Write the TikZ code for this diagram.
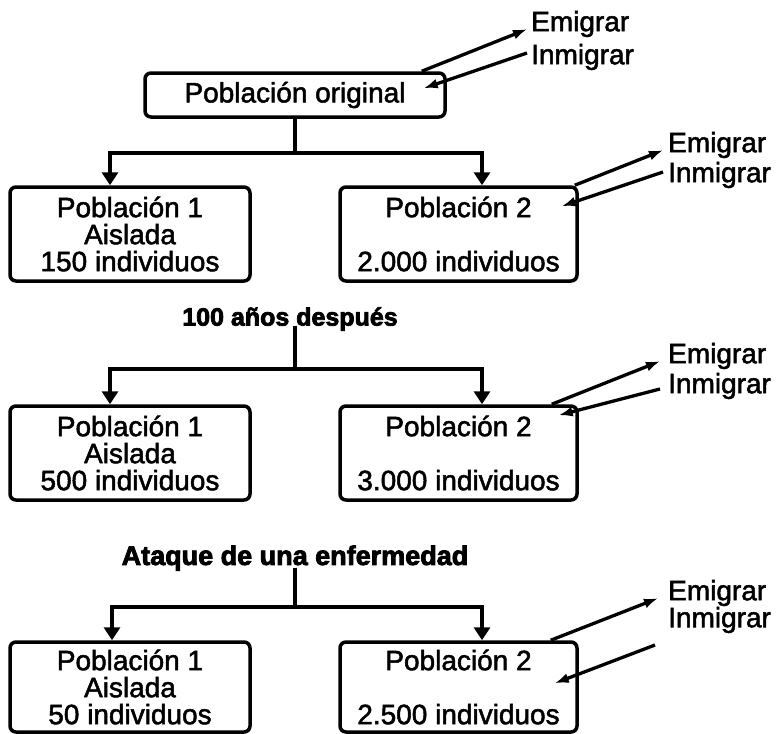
\documentclass[tikz,border=0pt]{standalone}
\usepackage{fontspec}
\setmainfont{Liberation Sans}
\newfontfamily\pobfont{Liberation Sans}[FakeBold=1.8]
\newfontfamily\titfont{Liberation Sans}[BoldFeatures={FakeBold=3}]
\usetikzlibrary{arrows.meta,positioning}

\begin{document}
\begin{tikzpicture}[
  x=1pt, y=-1pt,
  font=\pobfont\fontsize{28}{27}\selectfont,
  pob/.style={rectangle, rounded corners=6pt, draw=black, line width=3.5pt,
              minimum height=94pt, align=center, inner sep=2pt},
  pobl/.style={pob, minimum width=240pt},
  pobr/.style={pob, minimum width=237pt},
  orig/.style={pob, minimum width=300pt, minimum height=44pt},
  titulo/.style={font=\titfont\bfseries\fontsize{25}{25}\selectfont, inner sep=1pt},
  mig/.style={anchor=west, inner sep=0pt},
  link/.style={line width=3.5pt},
  down/.style={link, -{Triangle[width=16pt,length=13pt]}},
  flow/.style={line width=3.3pt, -{Latex[length=14pt,width=10pt]}},
]
\useasboundingbox (0,0) rectangle (777,734);

\node[orig] (orig) at (295,95) {Población original};

\node[pobl] (a1) at (130,234) {Población 1\\Aislada\\150 individuos};
\node[pobr] (b1) at (458.5,234) {Población 2\\[27pt]2.000 individuos};

\node[titulo] (t2) at (290,319) {100 años después};
\node[pobl] (a2) at (130,453) {Población 1\\Aislada\\500 individuos};
\node[pobr] (b2) at (458.5,453) {Población 2\\[27pt]3.000 individuos};

\node[titulo, font=\titfont\bfseries\fontsize{27}{27}\selectfont] (t3) at (295,558) {Ataque de una enfermedad};
\node[pobl, minimum height=90pt] (a3) at (130,687) {Población 1\\Aislada\\50 individuos};
\node[pobr, minimum height=90pt] (b3) at (458.5,687) {Población 2\\[27pt]2.500 individuos};

\node[mig] (e0) at (531,24) {Emigrar};
\node[mig] (i0) at (531,57) {Inmigrar};
\node[mig] (e1) at (668,145) {Emigrar};
\node[mig] (i1) at (668,175) {Inmigrar};
\node[mig] (e2) at (668,356) {Emigrar};
\node[mig] (i2) at (668,386) {Inmigrar};
\node[mig] (e3) at (668,593) {Emigrar};
\node[mig] (i3) at (668,620) {Inmigrar};

\coordinate (j1) at (295,153);
\coordinate (j2) at (295,369);
\coordinate (j3) at (295,607);

\draw[link] (orig) -- (j1);
\draw[down] (j1) -| ([xshift=-20pt]a1.north);
\draw[down] (j1) -| ([xshift=23.5pt]b1.north);

\draw[link] ([yshift=6pt]t2.south -| j2) -- (j2);
\draw[down] (j2) -| ([xshift=-20pt]a2.north);
\draw[down] (j2) -| ([xshift=23.5pt]b2.north);

\draw[link] ([yshift=4pt]t3.south -| j3) -- (j3);
\draw[down] (j3) -| ([xshift=-18pt]a3.north);
\draw[down] (j3) -| ([xshift=23.5pt]b3.north);

\draw[flow] (orig.north east) ++(-25,0) -- ([xshift=-4pt,yshift=2pt]e0.base west);
\draw[flow] ([xshift=-4pt,yshift=4pt]i0.west) -- ([xshift=-23pt,yshift=-17pt]orig.north east);
\draw[flow] (b1.north east) ++(-4,0) -- ([xshift=-5pt,yshift=2pt]e1.base west);
\draw[flow] ([xshift=-5pt,yshift=3pt]i1.west) -- ([xshift=-17pt,yshift=-21pt]b1.north east);
\draw[flow] (b2.north east) ++(-27,0) -- ([xshift=-8pt,yshift=2pt]e2.base west);
\draw[flow] ([xshift=-8pt,yshift=-3pt]i2.west) -- ([xshift=-20pt,yshift=-11pt]b2.north east);
\draw[flow] (b3.north east) ++(-28,0) -- ([xshift=-10pt,yshift=2pt]e3.base west);
\draw[flow] ([xshift=-13pt,yshift=-25pt]i3.west) -- ([xshift=-24pt,yshift=-43pt]b3.north east);

\end{tikzpicture}
\end{document}
